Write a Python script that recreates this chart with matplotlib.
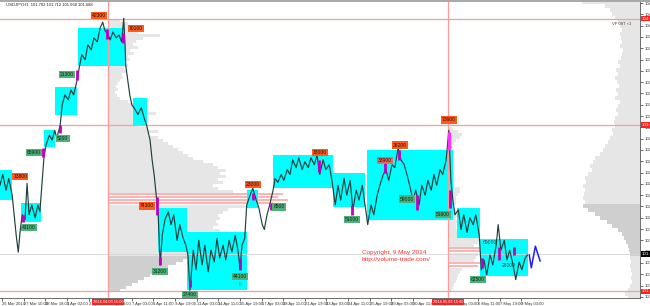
import numpy as np
import matplotlib
matplotlib.use('Agg')
import matplotlib.pyplot as plt
from matplotlib.patches import Rectangle
import matplotlib.transforms as mtransforms

plt.rcParams['font.family'] = ['Liberation Sans', 'DejaVu Sans']

# ---------------- data ----------------
# price path (H1 bar index, price)
path_bar = [-3, 1, 6, 10, 15, 18, 21, 24, 27, 30, 34, 37, 40, 44, 49, 53, 56, 59, 62, 65, 70, 74, 78, 81, 86, 89, 93, 98,
            102, 106, 111, 114, 118, 123, 127, 132, 136, 141, 145, 149, 152, 157, 160, 164, 169, 173, 177, 180, 182, 183,
            186, 189, 192, 197, 201, 206, 210, 214, 219, 222, 225, 228, 231, 234, 237, 241, 246, 250, 254, 259, 263, 268,
            272, 275, 278, 283, 287, 291, 296, 300, 305, 309, 314, 318, 322, 327, 331, 336, 340, 345, 349, 352, 355, 359,
            362, 367, 371, 376, 380, 385, 388, 392, 396, 401, 404, 408, 413, 417, 422, 426, 430, 435, 439, 444, 448, 453,
            457, 462, 466, 470, 475, 479, 484, 488, 493, 497, 501, 506, 510, 515, 519, 524, 528, 533, 537, 541, 546, 550,
            555, 559, 564, 568, 572, 577, 581, 586, 590, 595, 599, 603, 608, 612, 617, 621, 626, 630, 635, 639, 643, 648,
            652, 657, 661, 664, 667, 670, 675, 679, 683, 688, 692, 697, 701, 706, 709, 713, 717, 722, 726, 731, 734, 738,
            743, 747, 751, 756, 760, 765, 769, 774, 777]
path_price = [102.39, 102.50, 102.34, 102.46, 102.29, 102.09, 101.88, 101.71, 101.94, 102.09, 102.04, 102.41, 102.09,
              102.19, 102.06, 102.19, 102.12, 102.39, 102.67, 102.80, 102.90, 102.85, 102.95, 102.87, 103.00, 103.21,
              103.31, 103.26, 103.36, 103.31, 103.46, 103.58, 103.72, 103.67, 103.82, 103.77, 103.89, 103.85, 103.99,
              104.05, 103.97, 103.92, 103.87, 103.95, 103.89, 103.92, 103.85, 104.09, 103.82, 103.61, 103.46, 103.31,
              103.21, 103.16, 103.11, 103.18, 103.08, 103.00, 102.85, 102.65, 102.50, 102.29, 102.09, 101.58, 101.88,
              102.04, 102.12, 101.99, 102.09, 101.83, 101.99, 101.85, 101.78, 101.68, 101.32, 101.73, 101.53, 101.83,
              101.58, 101.78, 101.51, 101.73, 101.61, 101.85, 101.65, 101.78, 101.63, 101.83, 101.71, 101.88, 101.73,
              101.55, 101.78, 101.85, 102.19, 102.29, 102.36, 102.24, 102.16, 101.99, 101.94, 102.09, 102.19, 102.34,
              102.46, 102.42, 102.50, 102.44, 102.55, 102.50, 102.65, 102.57, 102.67, 102.55, 102.63, 102.57, 102.67,
              102.60, 102.70, 102.50, 102.65, 102.55, 102.60, 102.44, 102.19, 102.39, 102.24, 102.46, 102.29, 102.44,
              102.14, 102.34, 102.24, 102.39, 102.19, 101.99, 102.19, 102.09, 102.29, 102.39, 102.50, 102.55, 102.44,
              102.60, 102.57, 102.77, 102.65, 102.60, 102.50, 102.39, 102.24, 102.34, 102.19, 102.39, 102.29, 102.44,
              102.34, 102.50, 102.39, 102.55, 102.50, 102.65, 102.95, 102.44, 102.24, 102.09, 102.14, 101.94, 102.09,
              101.91, 102.06, 101.99, 102.09, 101.88, 101.53, 101.63, 101.48, 101.68, 101.58, 101.78, 101.99, 101.73,
              101.83, 101.63, 101.73, 101.58, 101.43, 101.61, 101.53, 101.65, 101.68]

# projection zigzag
zz_bar = [780, 783, 789, 796]
zz_price = [101.68, 101.55, 101.77, 101.62]

# cyan balance boxes: start bar, end bar, top price, bottom price
box_x0 = [-3, 28, 62, 78, 112, 194, 231, 274, 362, 401, 490, 540, 673, 707]
box_x1 = [15, 58, 78, 111, 182, 214, 274, 362, 379, 490, 537, 667, 707, 778]
box_top = [102.55, 102.21, 102.95, 103.39, 103.99, 103.28, 102.16, 101.91, 102.34, 102.70, 102.52, 102.75, 102.16, 101.84]
box_bot = [102.24, 102.02, 102.78, 103.11, 103.60, 103.00, 101.71, 101.32, 102.16, 102.36, 102.17, 102.04, 101.85, 101.47]

# volume labels
lab_text = ["13800", "41100", "65900", "5200", "21300", "42300", "70100", "74300", "31200", "27400", "44100",
            "23000", "8500", "18000", "51000", "33900", "26200", "59000", "73600", "51600", "69000", "28200", "62500"]
lab_bar = [27, 40, 47, 90, 96, 143, 198, 214, 234, 278, 352, 371, 410, 470, 518, 567, 589, 599, 661, 652, 722, 749, 704]
lab_price = [102.48, 101.96, 102.72, 102.87, 103.52, 104.12, 103.99, 102.18, 101.51, 101.28, 101.46, 102.40, 102.17,
             102.72, 102.04, 102.64, 102.80, 102.25, 103.055, 102.09, 101.81, 101.57, 101.43]
lab_kind = ["o", "g", "g", "g", "g", "o", "o", "o", "g", "g", "g", "o", "g", "o", "g", "r", "o", "g", "o", "g",
            "p", "p", "g"]

# magenta volume spikes
mg_bar = [31, 61, 86, 111, 155, 179, 229, 234, 278, 352, 371, 398, 469, 518, 567, 587, 614, 663, 710, 735, 757]
mg_top = [102.09, 102.77, 103.00, 103.56, 103.98, 103.94, 102.27, 101.66, 101.43, 101.65, 102.31, 102.21, 102.65,
          102.19, 102.62, 102.75, 102.29, 102.34, 101.65, 101.76, 101.76]
mg_bot = [102.02, 102.68, 102.92, 103.46, 103.88, 103.84, 102.09, 101.58, 101.35, 101.53, 102.24, 102.14, 102.53,
          102.09, 102.52, 102.65, 102.14, 102.16, 101.55, 101.63, 101.68]
spike_bar = [661]
spike_top = [102.93]
spike_bot = [102.75]

# reference lines
hline_prices = [104.087, 103.007, 101.31]
hline_tags = ["104.087", "103.007", "101.327"]
last_price = 101.688
session_bars = [157, 659.5]
session_tags = ["2014.04.03 15:00", "2014.05.02 15:00"]

# volume profile 1 (session from 3 Apr)
vp1_top, vp1_step = 104.072, 0.03053
vp1_vol = [12, 20, 25, 22, 30, 52, 35, 28, 25, 30, 22, 26, 20, 22, 18, 20, 16, 18, 14, 15, 12, 10, 8, 10, 7, 9, 12,
           20, 25, 30, 35, 48, 28, 25, 32, 30, 40, 50, 40, 50, 55, 60, 65, 70, 75, 80, 85, 95, 105, 110, 118, 112,
           118, 110, 115, 105, 110, 125, 175, 170, 180, 165, 140, 120, 115, 110, 112, 108, 110, 105, 112, 108, 100,
           105, 98, 100, 95, 92, 90, 80, 75, 68, 60, 55, 48, 42, 36, 30, 24, 18, 12]
vp1_kind = ["l"] * 58 + ["p"] * 4 + ["l"] * 17 + ["d"] * 12

# volume profile 2 (session from 2 May)
vp2_top, vp2_step = 102.973, 0.03053
vp2_vol = [5, 10, 14, 12, 8, 6, 4, 3, 2, 2, 2, 3, 2, 3, 4, 6, 3, 2, 2, 3, 12, 12, 10, 8, 8, 8, 5, 8, 8, 9, 8, 9, 8,
           8, 9, 10, 28, 32, 30, 26, 35, 34, 30, 28, 26, 33, 30, 14, 12, 10, 9, 8, 6, 5, 4]
vp2_kind = ["l"] * 40 + ["p", "p"] + ["l"] * 3 + ["p", "p"] + ["l"] * 8

# whole-range volume profile (right side)
vp3_top, vp3_step = 104.256, 0.04071
vp3_vol = [58, 35, 30, 28, 25, 22, 20, 18, 20, 19, 18, 20, 17, 18, 19, 22, 20, 24, 22, 25, 23, 21, 24, 22, 25, 20,
           22, 24, 22, 25, 26, 25, 28, 27, 30, 32, 35, 37, 40, 45, 47, 50, 48, 52, 55, 54, 57, 55, 56, 57, 55, 57,
           52, 45, 40, 33, 28, 22, 18, 16, 14, 12, 11, 10, 10, 9, 10, 9, 8, 9, 8, 10, 12, 15, 12]
vp3_kind = ["l"] * 51 + ["d"] * 13 + ["l"] * 11

# axis labels
y_ticks = [round(104.245 - 0.115 * k, 3) for k in range(27)]
x_tick_bars = list(range(0, 769, 32))
x_tick_labels = ["26 Mar 2014", "27 Mar 10:00", "28 Mar 18:00", "1 Apr 02:00", "2 Apr 10:00", "3 Apr 18:00",
                 "7 Apr 03:00", "8 Apr 11:00", "9 Apr 19:00", "11 Apr 03:00", "14 Apr 11:00", "15 Apr 19:00",
                 "17 Apr 03:00", "18 Apr 11:00", "21 Apr 19:00", "23 Apr 03:00", "24 Apr 11:00", "25 Apr 19:00",
                 "29 Apr 03:00", "30 Apr 11:00", "1 May 19:00", "5 May 03:00", "6 May 11:00", "7 May 19:00",
                 "9 May 03:00"]
header = "USDJPY,H1  101.702 101.712 101.668 101.688"

# ---------------- drawing ----------------
fig = plt.figure(figsize=(6.5, 3.06), dpi=100)
ax = fig.add_axes([0, 8 / 306, 640 / 650, 297 / 306])
XMIN, XMAX = -3, 943.8
ax.set_xlim(XMIN, XMAX)
ax.set_ylim(101.243, 104.266)

CYAN = '#00ffff'
for x0, x1, t, b in zip(box_x0, box_x1, box_top, box_bot):
    ax.add_patch(Rectangle((x0, b), x1 - x0, t - b, facecolor=CYAN, edgecolor='none', zorder=1))

pcol = {'l': '#e6e6e6', 'd': '#cfcfcf', 'p': '#ffb4b4'}
bw = 1.479  # bars per volume unit


def profile(top, step, vols, kinds, anchor, direction):
    levels = top - step * np.arange(len(vols))
    widths = np.array(vols) * bw
    cols = [pcol[k] for k in kinds]
    hts = [step * (0.7 if k == 'p' else 1.0) for k in kinds]
    if direction > 0:
        lefts = np.full(len(vols), anchor)
    else:
        lefts = anchor - widths
    ax.barh(levels, widths, left=lefts, height=hts, color=cols,
            edgecolor='none', linewidth=0, zorder=0.5)


profile(vp1_top, vp1_step, vp1_vol, vp1_kind, session_bars[0], 1)
profile(vp2_top, vp2_step, vp2_vol, vp2_kind, session_bars[1], 1)
profile(vp3_top, vp3_step, vp3_vol, vp3_kind, XMAX, -1)

for p in hline_prices:
    ax.axhline(p, color='#ff9a9a', lw=0.9, zorder=3)
ax.axhline(last_price, color='#d4d4d4', lw=0.6, zorder=3)
for b in session_bars:
    ax.axvline(b, color='#ff9a9a', lw=0.9, zorder=3)

ax.plot(path_bar, path_price, color='#1f4040', lw=0.85, zorder=4)
ax.plot(zz_bar, zz_price, color='#1f1fff', lw=1.1, zorder=4)

ax.vlines(mg_bar, mg_bot, mg_top, color='#c000c0', lw=2.0, zorder=5)
ax.vlines(spike_bar, spike_bot, spike_top, color='#ff30ff', lw=2.4, zorder=5)

kstyle = {'o': ('#ff5a1e', '#2a1000'), 'g': ('#4fb07a', '#0a2a14'), 'r': ('#e0705e', '#2a0a00'),
          'p': (None, '#1d4a4a')}
for t, b, p, k in zip(lab_text, lab_bar, lab_price, lab_kind):
    fc, tc = kstyle[k]
    bbox = dict(boxstyle='square,pad=0.22', fc=fc, ec='none') if fc else None
    ax.text(b, p, t, fontsize=3.6, ha='center', va='center', color=tc, bbox=bbox, zorder=6)
ax.text(352, 101.38, "0", fontsize=3.4, ha='center', va='center', color='#5a8a7a', zorder=6)

ax.text(532, 101.71, "Copyright, 9 May 2014", fontsize=4.6, color='#ff3030', ha='left', va='center', zorder=6)
ax.text(532, 101.635, "http://volume-trade.com/", fontsize=4.6, color='#ff3030', ha='left', va='center', zorder=6)
ax.text(903, 104.03, "VP 08T <1", fontsize=3, color='#444444', ha='left', va='center', zorder=6)
ax.text(6, 104.23, header, fontsize=3, color='#222222', ha='left', va='center', zorder=6)

# axes styling
for s in ['top', 'left']:
    ax.spines[s].set_visible(False)
ax.spines['right'].set_color('#555555')
ax.spines['bottom'].set_color('#555555')
ax.spines['right'].set_linewidth(0.6)
ax.spines['bottom'].set_linewidth(0.6)
ax.yaxis.tick_right()
ax.set_yticks(y_ticks)
ax.set_yticklabels(["%.3f" % v for v in y_ticks])
ax.tick_params(axis='y', labelsize=3.2, length=2, width=0.5, pad=1, colors='#333333')
ax.set_xticks(x_tick_bars)
ax.set_xticklabels(x_tick_labels)
for lbl in ax.get_xticklabels():
    lbl.set_horizontalalignment('left')
ax.tick_params(axis='x', labelsize=3, length=2, width=0.5, pad=1, colors='#333333')

ytr = mtransforms.blended_transform_factory(ax.transAxes, ax.transData)
for p, t in zip(hline_prices, hline_tags):
    ax.text(1.003, p, t, transform=ytr, fontsize=3.2, color='white', ha='left', va='center',
            bbox=dict(boxstyle='square,pad=0.2', fc='#ff2020', ec='none'), zorder=7, clip_on=False)
ax.text(1.003, last_price, "101.688", transform=ytr, fontsize=3.2, color='white', ha='left', va='center',
        bbox=dict(boxstyle='square,pad=0.2', fc='#000000', ec='none'), zorder=7, clip_on=False)

xtr = mtransforms.blended_transform_factory(ax.transData, ax.transAxes)
for b, t in zip(session_bars, session_tags):
    ax.text(b, -0.013, t, transform=xtr, fontsize=2.8, color='white', ha='center', va='center',
            bbox=dict(boxstyle='square,pad=0.2', fc='#ff2020', ec='none'), zorder=7, clip_on=False)

fig.patches.append(Rectangle((0, 1 - 2 / 306), 1, 2 / 306, transform=fig.transFigure,
                             facecolor='#a9a9a9', edgecolor='none'))

fig.savefig('out.png', dpi=100)
